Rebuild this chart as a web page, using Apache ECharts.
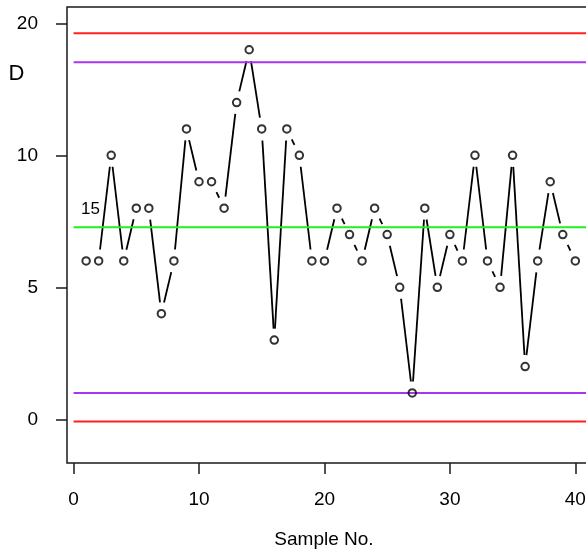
<!DOCTYPE html>
<html><head><meta charset="utf-8">
<script src="https://cdn.jsdelivr.net/npm/echarts@6/dist/echarts.min.js"></script>
<style>html,body{margin:0;padding:0;background:#fff}#c{width:586px;height:553px}</style>
</head><body><div id="c"></div>
<script>
// ---- data ----
const sampleNo = [1,2,3,4,5,6,7,8,9,10,11,12,13,14,15,16,17,18,19,20,
                  21,22,23,24,25,26,27,28,29,30,31,32,33,34,35,36,37,38,39,40];
const values   = [6,6,10,6,8,8,4,6,11,9,9,8,12,14,11,3,11,10,6,6,
                  8,7,6,8,7,5,1,8,5,7,6,10,6,5,10,2,6,9,7,6];
const xTickValues = [0,10,20,30,40];
const yTickValues = [0,5,10,15];
const yTickLabels = ['0','5','10','20'];
const controlLimits = [14.63, -0.08];
const warningLimits = [13.53, 1.0];
const centerLine = [7.28];
const lineSpan = [0, 42];
const extraTexts = ['D', '15'];
const xTitle = 'Sample No.';

// ---- layout / style ----
const FONT = '"Liberation Sans", Arial, sans-serif';
const GAP = 11.5;
const points = sampleNo.map((x, i) => [x, values[i]]);
const segs = [];
for (let i = 0; i < points.length - 1; i++) segs.push([points[i][0], points[i][1], points[i+1][0], points[i+1][1]]);

function hLine(v, color) {
  return {
    type: 'line', data: lineSpan.map(x => [x, v]), showSymbol: false, symbol: 'none',
    lineStyle: { color: color, width: 2 }, z: 4, silent: true, animation: false
  };
}

const chart = echarts.init(document.getElementById('c'), null, { renderer: 'canvas' });
chart.setOption({
  animation: false,
  backgroundColor: '#fff',
  grid: {
    left: 67, top: 7, bottom: 90, right: -14.4,
    show: true, borderColor: '#1a1a1a', borderWidth: 1.5, backgroundColor: 'transparent',
    containLabel: false, outerBoundsMode: 'none'
  },
  xAxis: {
    type: 'value', min: -0.524, max: 42, position: 'bottom',
    axisLine: { show: false, onZero: false },
    axisTick: { show: true, length: 11, inside: false, customValues: xTickValues, lineStyle: { color: '#1a1a1a', width: 1.5 } },
    axisLabel: { show: true, margin: 27, customValues: xTickValues, color: '#000', fontSize: 19, fontFamily: FONT },
    splitLine: { show: false }
  },
  yAxis: {
    type: 'value', min: -1.655, max: 15.62, position: 'left',
    axisLine: { show: false, onZero: false },
    axisTick: { show: true, length: 11, inside: false, customValues: yTickValues, lineStyle: { color: '#1a1a1a', width: 1.5 } },
    axisLabel: { show: true, margin: 29, customValues: yTickValues, color: '#000', fontSize: 19, fontFamily: FONT,
      formatter: v => { const k = yTickValues.indexOf(v); return k >= 0 ? yTickLabels[k] : ''; } },
    splitLine: { show: false }
  },
  series: [
    {
      type: 'custom', data: segs, z: 2, silent: true, animation: false,
      encode: { x: [0, 2], y: [1, 3] },
      renderItem: function (params, api) {
        const p1 = api.coord([api.value(0), api.value(1)]);
        const p2 = api.coord([api.value(2), api.value(3)]);
        const dx = p2[0] - p1[0], dy = p2[1] - p1[1];
        const L = Math.hypot(dx, dy);
        if (L <= 2 * GAP) return { type: 'group', children: [] };
        const ux = dx / L, uy = dy / L;
        return {
          type: 'line',
          shape: { x1: p1[0] + ux * GAP, y1: p1[1] + uy * GAP, x2: p2[0] - ux * GAP, y2: p2[1] - uy * GAP },
          style: { stroke: '#000', lineWidth: 1.8, fill: null }
        };
      }
    },
    hLine(controlLimits[0], '#ff2020'),
    hLine(controlLimits[1], '#ff2020'),
    hLine(warningLimits[0], '#a836f0'),
    hLine(warningLimits[1], '#a836f0'),
    hLine(centerLine[0], '#22ee22'),
    {
      type: 'scatter', data: points, symbol: 'circle', symbolSize: 7.5, z: 5, silent: true, animation: false,
      itemStyle: { color: 'rgba(0,0,0,0)', borderColor: '#000', borderWidth: 2 }
    }
  ],
  graphic: [
    { type: 'text', x: 16.5, y: 74, style: { text: extraTexts[0], font: '22px ' + FONT, fill: '#000', textAlign: 'center', textVerticalAlign: 'middle' } },
    { type: 'text', x: 90.5, y: 209, style: { text: extraTexts[1], font: '17px ' + FONT, fill: '#000', textAlign: 'center', textVerticalAlign: 'middle' } },
    { type: 'text', x: 324, y: 540, style: { text: xTitle, font: '19px ' + FONT, fill: '#000', textAlign: 'center', textVerticalAlign: 'middle' } }
  ]
});
</script>
</body></html>
